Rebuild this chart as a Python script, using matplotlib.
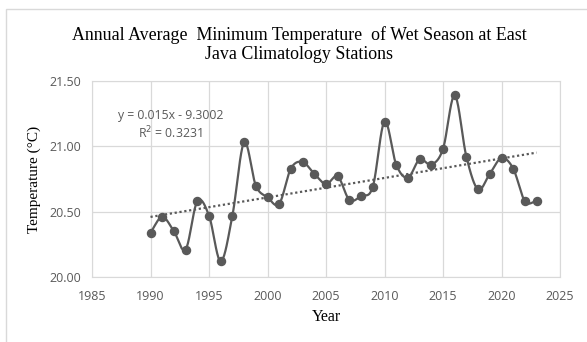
import numpy as np
import matplotlib.pyplot as plt
from matplotlib.patches import Rectangle

# Annual average minimum temperature, wet season, East Java climatology stations
years = [1990, 1991, 1992, 1993, 1994, 1995, 1996, 1997, 1998, 1999,
         2000, 2001, 2002, 2003, 2004, 2005, 2006, 2007, 2008, 2009,
         2010, 2011, 2012, 2013, 2014, 2015, 2016, 2017, 2018, 2019,
         2020, 2021, 2022, 2023]
temps = [20.34, 20.46, 20.35, 20.21, 20.58, 20.47, 20.12, 20.47, 21.03, 20.70,
         20.61, 20.56, 20.83, 20.88, 20.79, 20.71, 20.77, 20.59, 20.62, 20.69,
         21.19, 20.86, 20.76, 20.90, 20.86, 20.98, 21.39, 20.92, 20.67, 20.79,
         20.91, 20.83, 20.58, 20.58]

x_ticks = [1985, 1990, 1995, 2000, 2005, 2010, 2015, 2020, 2025]
y_ticks = [20.00, 20.50, 21.00, 21.50]

title = "Annual Average  Minimum Temperature  of Wet Season at East\nJava Climatology Stations"
trend_label = "y = 0.015x - 9.3002\nR$^2$ = 0.3231"

GRAY = "#595959"
GRID = "#d9d9d9"


def smooth(x, y, n=20):
    # Catmull-Rom spline through the points, like a spreadsheet "smoothed line"
    x = np.asarray(x, float)
    y = np.asarray(y, float)
    px = np.concatenate([[2 * x[0] - x[1]], x, [2 * x[-1] - x[-2]]])
    py = np.concatenate([[2 * y[0] - y[1]], y, [2 * y[-1] - y[-2]]])
    t = np.linspace(0, 1, n, endpoint=False)
    xs, ys = [], []
    for i in range(1, len(px) - 2):
        for p, out in ((px, xs), (py, ys)):
            p0, p1, p2, p3 = p[i - 1], p[i], p[i + 1], p[i + 2]
            out.append(0.5 * (2 * p1 + (-p0 + p2) * t
                              + (2 * p0 - 5 * p1 + 4 * p2 - p3) * t ** 2
                              + (-p0 + 3 * p1 - 3 * p2 + p3) * t ** 3))
    xs.append([x[-1]])
    ys.append([y[-1]])
    return np.concatenate(xs), np.concatenate(ys)


fig = plt.figure(figsize=(5.87, 3.42), dpi=100)
fig.patches.append(Rectangle((6 / 587, -0.1), 1.2, (342 - 9) / 342 + 0.1,
                             transform=fig.transFigure, fill=False,
                             edgecolor=GRID, linewidth=1))

ax = fig.add_axes([92 / 587, 65 / 342, 468 / 587, 196 / 342])

sx, sy = smooth(years, temps)
ax.plot(sx, sy, color=GRAY, linewidth=1.6, zorder=3)
ax.plot(years, temps, "o", color=GRAY, markersize=5.8, zorder=4)

# linear trend
coef = np.polyfit(years, temps, 1)
yr = np.array([years[0], years[-1]])
ax.plot(yr, np.polyval(coef, yr), color=GRAY, linestyle=(0, (1, 1.2)),
        linewidth=1.6, zorder=2)

ax.text(1991.7, 21.04, trend_label, ha="center", va="bottom", color=GRAY,
        fontsize=8.8, family="Open Sans", linespacing=1.2)

ax.set_xlim(1985, 2025)
ax.set_ylim(20.0, 21.5)
ax.set_xticks(x_ticks)
ax.set_yticks(y_ticks)
ax.set_yticklabels([f"{v:.2f}" for v in y_ticks])
ax.grid(True, color=GRID, linewidth=0.9)
ax.set_axisbelow(True)
ax.tick_params(length=0, labelcolor=GRAY, labelsize=9)
ax.tick_params(axis="x", pad=9)
ax.tick_params(axis="y", pad=8)
for lab in ax.get_xticklabels() + ax.get_yticklabels():
    lab.set_family("Open Sans")
for s in ax.spines.values():
    s.set_color(GRID)

ax.set_xlabel("Year", family="Liberation Serif", fontsize=11.5, labelpad=5)
ax.set_ylabel("Temperature (°C)", family="Liberation Serif", fontsize=11,
              labelpad=6)
fig.text(0.51, 0.815, title, ha="center", va="bottom", family="Liberation Serif",
         fontsize=12.9, linespacing=1.15)

fig.savefig("out.png", dpi=100)
